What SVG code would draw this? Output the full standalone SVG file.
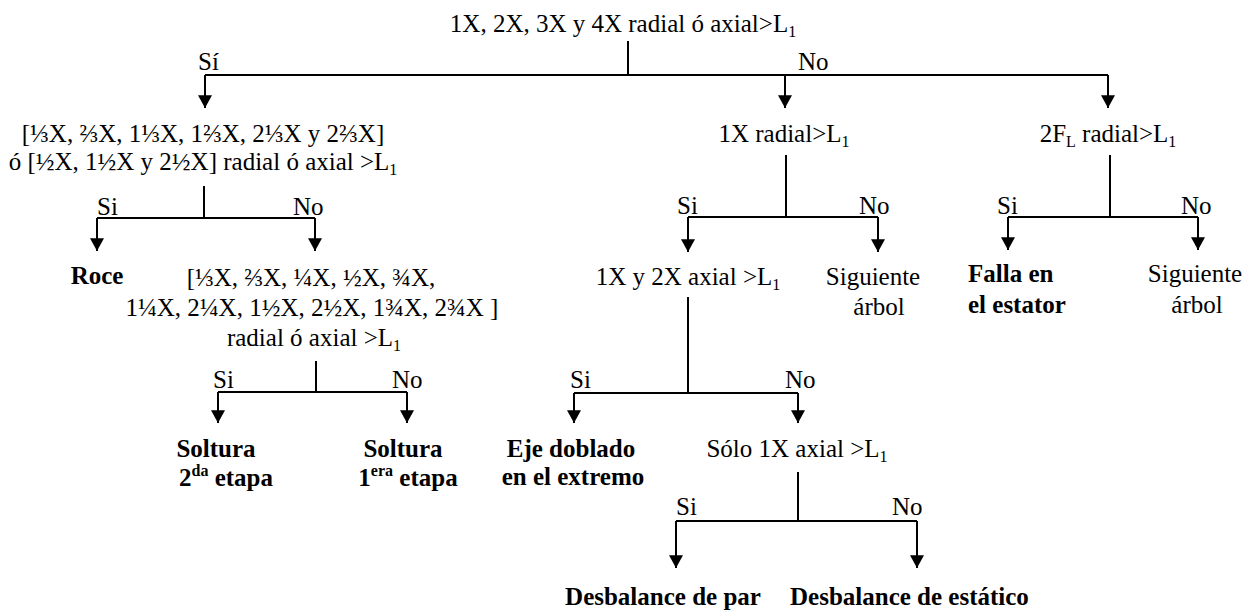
<svg xmlns="http://www.w3.org/2000/svg" width="1255" height="612" viewBox="0 0 1255 612">
<style>
text{font-family:"Liberation Serif","Times New Roman",serif;font-size:25px;fill:#000}
.c{text-anchor:middle}
.b{font-weight:bold}
.sub{font-size:16px}
.sup{font-size:16px}
.ln{stroke:#000;stroke-width:2;fill:none}
.ar{stroke:#000;stroke-width:2;fill:none;marker-end:url(#ah)}
</style>
<defs>
<marker id="ah" markerUnits="userSpaceOnUse" markerWidth="14" markerHeight="14" refX="11" refY="6" orient="auto" viewBox="0 0 12 12">
<path d="M0,0 L11,6 L0,12 z" fill="#000"/>
</marker>
</defs>
<g id="connectors">
<path class="ln" d="M628,41 V75 M205,75 H1108"/>
<path class="ar" d="M205,75 V108"/>
<path class="ar" d="M785,75 V108"/>
<path class="ar" d="M1108,75 V108"/>
<path class="ln" d="M204,186 V218 M97,218 H315"/>
<path class="ar" d="M97,218 V251"/>
<path class="ar" d="M315,218 V251"/>
<path class="ln" d="M316,361 V392 M218,392 H407"/>
<path class="ar" d="M218,392 V423"/>
<path class="ar" d="M407,392 V423"/>
<path class="ln" d="M786,155 V217 M688,217 H878"/>
<path class="ar" d="M688,217 V252"/>
<path class="ar" d="M878,217 V252"/>
<path class="ln" d="M688,297 V393 M574,393 H798"/>
<path class="ar" d="M574,393 V423"/>
<path class="ar" d="M798,393 V423"/>
<path class="ln" d="M798,472 V521 M676,521 H917"/>
<path class="ar" d="M676,521 V568"/>
<path class="ar" d="M917,521 V568"/>
<path class="ln" d="M1110,155 V217 M1008,217 H1198"/>
<path class="ar" d="M1008,217 V250"/>
<path class="ar" d="M1198,217 V250"/>
<text x="198" y="70">Sí</text><text x="798" y="70">No</text>
<text x="97" y="215">Si</text><text x="293" y="215">No</text>
<text x="213" y="388">Si</text><text x="392" y="388">No</text>
<text x="677" y="214">Si</text><text x="859" y="214">No</text>
<text x="570" y="388">Si</text><text x="785" y="388">No</text>
<text x="676" y="515">Si</text><text x="892" y="515">No</text>
<text x="997" y="214">Si</text><text x="1181" y="214">No</text>
</g>
<g id="n_root"><text class="c" x="623" y="32">1X, 2X, 3X y 4X radial ó axial&gt;L<tspan class="sub" dy="5">1</tspan></text></g>
<g id="n_sub">
<text class="c" x="203" y="142">[⅓X, ⅔X, 1⅓X, 1⅔X, 2⅓X y 2⅔X]</text>
<text class="c" x="203" y="170">ó [½X, 1½X y 2½X] radial ó axial &gt;L<tspan class="sub" dy="5">1</tspan></text>
</g>
<g id="n_roce"><text class="c b" x="97" y="284">Roce</text></g>
<g id="n_sub2">
<text class="c" x="311" y="286">[⅓X, ⅔X, ¼X, ½X, ¾X,</text>
<text class="c" x="312" y="316">1¼X, 2¼X, 1½X, 2½X, 1¾X, 2¾X ]</text>
<text class="c" x="314" y="346">radial ó axial &gt;L<tspan class="sub" dy="5">1</tspan></text>
</g>
<g id="n_soltura2">
<text class="c b" x="216" y="457">Soltura</text>
<text class="c b" x="226" y="486">2<tspan class="sup" dy="-10">da</tspan><tspan dy="10"> etapa</tspan></text>
</g>
<g id="n_soltura1">
<text class="c b" x="403" y="457">Soltura</text>
<text class="c b" x="408" y="486">1<tspan class="sup" dy="-10">era</tspan><tspan dy="10"> etapa</tspan></text>
</g>
<g id="n_1xradial"><text class="c" x="784" y="142">1X radial&gt;L<tspan class="sub" dy="5">1</tspan></text></g>
<g id="n_1x2x"><text class="c" x="688" y="285">1X y 2X axial &gt;L<tspan class="sub" dy="5">1</tspan></text></g>
<g id="n_sig1">
<text class="c" x="873" y="285">Siguiente</text>
<text class="c" x="879" y="315">árbol</text>
</g>
<g id="n_eje">
<text class="c b" x="571" y="457">Eje doblado</text>
<text class="c b" x="573" y="485">en el extremo</text>
</g>
<g id="n_solo"><text class="c" x="797" y="457">Sólo 1X axial &gt;L<tspan class="sub" dy="5">1</tspan></text></g>
<g id="n_par"><text class="c b" x="663" y="605">Desbalance de par</text></g>
<g id="n_estatico"><text class="b" x="790" y="605">Desbalance de estático</text></g>
<g id="n_2fl"><text class="c" x="1108" y="142">2F<tspan class="sub" dy="5">L</tspan><tspan dy="-5"> radial&gt;L</tspan><tspan class="sub" dy="5">1</tspan></text></g>
<g id="n_falla">
<text class="b" x="968" y="282">Falla en</text>
<text class="b" x="968" y="313">el estator</text>
</g>
<g id="n_sig2">
<text class="c" x="1195" y="282">Siguiente</text>
<text class="c" x="1197" y="313">árbol</text>
</g>
</svg>
